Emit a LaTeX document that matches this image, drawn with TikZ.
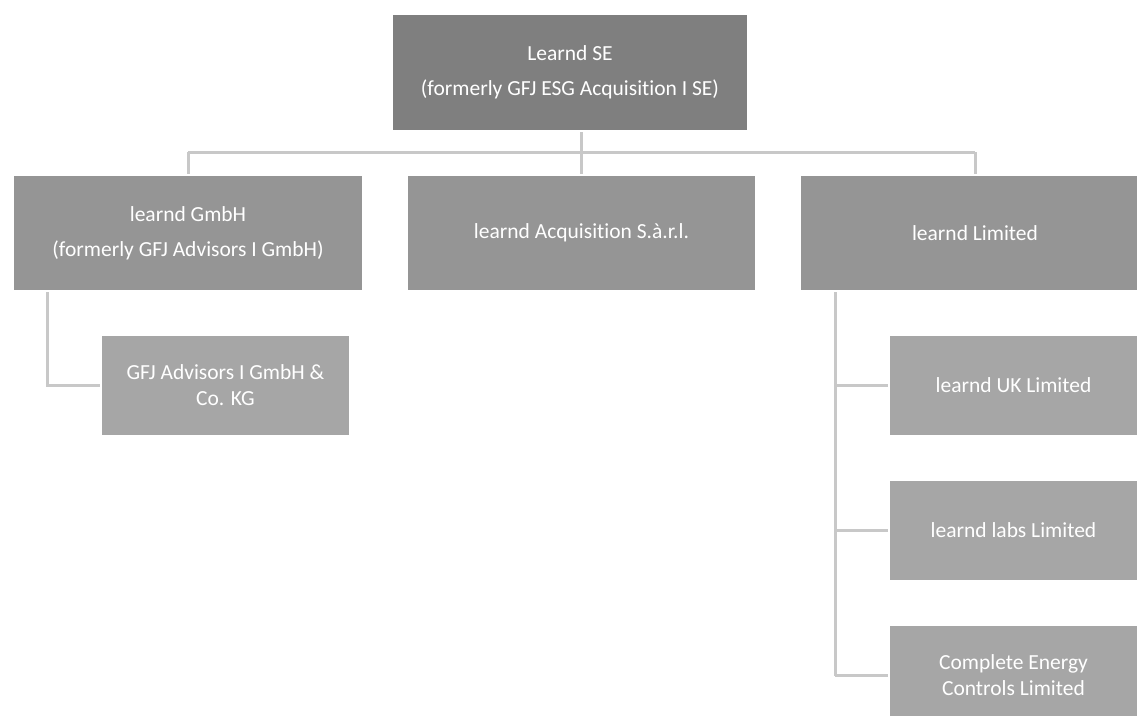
\documentclass[tikz,border=0pt]{standalone}
\usepackage{fontspec}
\setmainfont[Ligatures=NoCommon]{Carlito}
\definecolor{topgrey}{HTML}{7F7F7F}
\definecolor{midgrey}{HTML}{959595}
\definecolor{lowgrey}{HTML}{A6A6A6}
\definecolor{linegrey}{HTML}{C8C8C8}
\tikzset{
  org/.style={rectangle, text=white, align=center, inner sep=0pt,
    font=\fontsize{21.5}{26}\selectfont},
  toporg/.style={org, fill=topgrey, minimum width=354pt, minimum height=115pt},
  midorg/.style={org, fill=midgrey, minimum width=348pt, minimum height=114pt},
  loworg/.style={org, fill=lowgrey, minimum width=247pt, minimum height=99pt},
  link/.style={draw=linegrey, line width=3pt}
}
\begin{document}
\begin{tikzpicture}[x=1pt,y=-1pt]
\useasboundingbox (0,0) rectangle (1137,715);
\clip (0,0) rectangle (1137,715);
% parent
\node[toporg] (root) at (570,72.5) {Learnd SE\\[9pt](formerly GFJ ESG Acquisition I SE)};
% first level
\node[midorg] (gmbh) at (188,233) {learnd GmbH\\[9pt](formerly GFJ Advisors I GmbH)};
\node[midorg, minimum width=347pt] (acq) at (581.5,233) {learnd Acquisition S.\`a.r.l.};
\node[midorg] (ltd) at (975,233) {learnd Limited};
% second level
\node[loworg] (kg) at (225.5,385.5) {GFJ Advisors I GmbH \&\\Co. KG};
\node[loworg] (uk) at (1013.5,385.5) {learnd UK Limited};
\node[loworg] (labs) at (1013.5,530.5) {learnd labs Limited};
\node[loworg] (cec) at (1013.5,675.5) {Complete Energy\\Controls Limited};
% connectors
\coordinate (bus) at (0,152);
\draw[link, shorten >=2pt] (gmbh.north |- bus) -- (gmbh.north);
\draw[link, shorten >=2pt] (ltd.north |- bus) -- (ltd.north);
\draw[link] (gmbh.north |- bus) -- (ltd.north |- bus);
\draw[link, shorten <=2pt, shorten >=2pt] (root.south -| acq.north) -- (acq.north);
\coordinate (leftrail) at (47,0);
\draw[link, shorten <=2pt, shorten >=2pt] (gmbh.south -| leftrail) |- (kg.west);
\coordinate (rightrail) at (835,0);
\draw[link, shorten <=2pt] (ltd.south -| rightrail) -- (cec.west -| rightrail);
\draw[link, shorten >=2pt] (uk.west -| rightrail) -- (uk.west);
\draw[link, shorten >=2pt] (labs.west -| rightrail) -- (labs.west);
\draw[link, shorten >=2pt] (cec.west -| rightrail) -- (cec.west);
\end{tikzpicture}
\end{document}
